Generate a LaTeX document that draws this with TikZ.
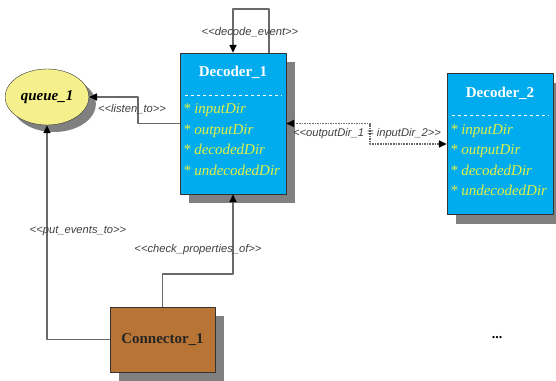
\documentclass[tikz,border=0pt]{standalone}
\usepackage{fontspec}
\setmainfont{Liberation Serif}
\setsansfont{Liberation Sans}
\usetikzlibrary{arrows.meta,shadows,shapes.geometric}
\definecolor{decblue}{RGB}{0,172,238}
\definecolor{attryellow}{RGB}{226,240,70}
\definecolor{queueyellow}{RGB}{246,240,140}
\definecolor{connbrown}{RGB}{184,116,52}
\definecolor{linegray}{RGB}{105,105,105}
\definecolor{shadegray}{RGB}{128,128,128}
\def\st#1{{<}{<}#1{>}{>}}
\begin{document}
\begin{tikzpicture}[x=1pt,y=-1pt,line join=round,
 >={Triangle[length=8pt,width=7pt,color=black]},
 shade/.style={drop shadow={shadow xshift=9pt,shadow yshift=-9pt,fill=shadegray,opacity=1}},
 comp/.style={draw=black!80,fill=decblue,shade,minimum width=106pt,minimum height=141pt,inner sep=0pt},
 title/.style={font=\fontsize{15}{18}\selectfont\bfseries,text=white},
 attr/.style={font=\fontsize{15}{20.5}\selectfont\itshape,text=attryellow,align=left,inner sep=0pt},
 rel/.style={draw=linegray,line width=1.6pt,->},
 lbl/.style={font=\sffamily\itshape\fontsize{11.2}{13}\selectfont,text=black!75}]
 \useasboundingbox (0,0) rectangle (556,380);
 \foreach \n/\x/\y in {1/233/123.5,2/500/144}{
  \node[comp] (dec\n) at (\x,\y) {};
  \node[title] (dec\n t) at ([yshift=-20pt]dec\n.north) {Decoder\_\n};
  \draw[white,dashed] ([xshift=5pt,yshift=-42pt]dec\n.north west) -- ([xshift=-5pt,yshift=-42pt]dec\n.north east);
  \node[attr,anchor=north west] (dec\n a) at ([xshift=3pt,yshift=-51pt]dec\n.north west) {* inputDir\\* outputDir\\* decodedDir\\* undecodedDir};
 }
 \node[ellipse,draw=black!80,fill=queueyellow,minimum width=80pt,minimum height=56pt,
  drop shadow={shadow xshift=7pt,shadow yshift=-7pt,fill=shadegray,opacity=1},
  font=\fontsize{15}{18}\selectfont\bfseries\itshape] (queue) at (47,97) {queue\_1};
 \node[draw=black!80,fill=connbrown,shade,minimum width=105pt,minimum height=65pt,
  font=\fontsize{15}{18}\selectfont\bfseries,text=black!85] (conn) at (162.5,339.5) {Connector\_1};
 \node[font=\fontsize{14}{16}\selectfont\bfseries] (more) at (497,338) {...};
 % relations
 \draw[rel] ([xshift=36pt]dec1.north) -- ++(0,-44) -| (dec1.north);
 \node[lbl] (l1) at (250,32) {\st{decode\_event}};
 \draw[rel] (dec1.west) -- ++(-42,0) |- (queue.east);
 \node[lbl] (l2) at (132,109) {\st{listen\_to}};
 \draw[rel,<->,densely dotted] (dec1.east) -- ++(84,0) |- (dec2.west);
 \node[lbl] (l3) at (367,134) {\st{outputDir\_1 = inputDir\_2}};
 \draw[rel] (conn.west) -| (queue.south);
 \node[lbl] (l4) at (78,231) {\st{put\_events\_to}};
 \draw[rel] (conn.north) -- ++(0,-33) -| (dec1.south);
 \node[lbl] (l5) at (198,250) {\st{check\_properties\_of}};
\end{tikzpicture}
\end{document}
